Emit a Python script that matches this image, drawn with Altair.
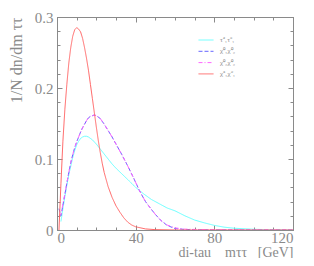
import altair as alt
import pandas as pd

# ---- data ----
labels = ["τ̃⁺₁τ̃⁻₁", "χ̃⁰₁χ̃⁰₂", "χ̃⁰₂χ̃⁰₂", "χ̃⁺₁χ̃⁻₁"]
colors = ["#66ffff", "#6666ff", "#ff66ff", "#ff6666"]
dashes = [[1, 0], [4, 2], [4, 2, 1, 2], [1, 0]]

# stau pair (cyan)
x_stau = [2, 3, 4, 5, 6, 7, 8, 9, 10, 11, 12, 13, 14, 15, 16, 18, 20, 22, 24, 26, 28, 30,
          33, 36, 40, 44, 48, 52, 56, 60, 65, 70, 75, 80, 85, 90, 100, 110, 120]
y_stau = [0.012, 0.03, 0.047, 0.063, 0.078, 0.09, 0.102, 0.112, 0.12, 0.125, 0.129, 0.131,
          0.132, 0.132, 0.131, 0.127, 0.121, 0.114, 0.107, 0.1, 0.093, 0.087, 0.079, 0.071,
          0.06, 0.051, 0.043, 0.037, 0.031, 0.027, 0.02, 0.014, 0.01, 0.0065, 0.004, 0.0025,
          0.001, 0.0003, 0.0]

# neutralino 1-2 (blue dashed)
x_n12 = [1, 2, 3, 4, 5, 6, 7, 8, 9, 10, 11, 12, 13, 14, 15, 16, 17, 18, 19, 20, 22, 24, 26,
         28, 30, 33, 36, 39, 42, 45, 48, 50, 53, 56, 60, 65, 70, 80, 100, 120]
y_n12 = [0.03, 0.02, 0.035, 0.05, 0.066, 0.081, 0.095, 0.106, 0.116, 0.124, 0.131, 0.138,
         0.144, 0.149, 0.154, 0.158, 0.16, 0.161, 0.162, 0.161, 0.157, 0.149, 0.14, 0.131,
         0.121, 0.106, 0.09, 0.073, 0.055, 0.04, 0.029, 0.022, 0.013, 0.0065, 0.002, 0.0008,
         0.0004, 0.0002, 0.0, 0.0]

# neutralino 2-2 (magenta dash-dot)
x_n22 = [1, 2, 3, 4, 5, 6, 7, 8, 9, 10, 11, 12, 13, 14, 15, 16, 17, 18, 19, 20, 22, 24, 26,
         28, 30, 33, 36, 39, 42, 45, 48, 50, 53, 56, 60, 65, 70, 80, 90, 100, 120]
y_n22 = [0.02, 0.022, 0.036, 0.051, 0.066, 0.081, 0.095, 0.106, 0.116, 0.124, 0.131, 0.138,
         0.144, 0.149, 0.154, 0.158, 0.16, 0.161, 0.162, 0.161, 0.157, 0.149, 0.14, 0.131,
         0.121, 0.106, 0.09, 0.073, 0.055, 0.04, 0.029, 0.022, 0.013, 0.007, 0.003, 0.0012,
         0.0008, 0.0005, 0.0003, 0.0001, 0.0]

# chargino pair (red)
x_c11 = [1, 2, 3, 4, 5, 6, 7, 8, 9, 10, 11, 12, 13, 14, 15, 16, 17, 18, 19, 20, 21, 22, 23,
         24, 26, 28, 30, 32, 34, 36, 38, 40, 45, 50, 60, 80, 100, 120]
y_c11 = [0.0, 0.065, 0.125, 0.17, 0.205, 0.235, 0.257, 0.273, 0.282, 0.285, 0.283, 0.279,
         0.27, 0.257, 0.242, 0.225, 0.205, 0.185, 0.165, 0.145, 0.126, 0.109, 0.094, 0.081,
         0.061, 0.046, 0.034, 0.025, 0.017, 0.011, 0.007, 0.0045, 0.0015, 0.0005, 0.0, 0.0,
         0.0, 0.0]

major_x = [0, 40, 80, 120]
minor_x = [0, 10, 20, 30, 40, 50, 60, 70, 80, 90, 100, 110, 120]
major_y = [0, 0.1, 0.2, 0.3]
minor_y = [0, 0.02, 0.04, 0.06, 0.08, 0.1, 0.12, 0.14, 0.16, 0.18, 0.2, 0.22, 0.24, 0.26, 0.28, 0.3]

x_title = "di-tau\u00a0\u00a0\u00a0\u00a0mττ\u00a0\u00a0\u00a0[GeV]"
y_title = "1/N\u00a0dn/dm\u00a0ττ"

rows = []
for lab, xs_, ys_ in zip(labels, [x_stau, x_n12, x_n22, x_c11], [y_stau, y_n12, y_n22, y_c11]):
    for a, b in zip(xs_, ys_):
        rows.append({"m": a, "v": b, "proc": lab})
df = pd.DataFrame(rows)

GRAY = "#8a8a8a"
FONT = "Liberation Serif"

xscale = alt.Scale(domain=[0, 120], nice=False)
yscale = alt.Scale(domain=[0, 0.3], nice=False)

leg = alt.Legend(orient="none", legendX=141, legendY=15, title=None, padding=0,
                 symbolType="stroke", symbolSize=225, symbolStrokeWidth=1,
                 labelFont=FONT, labelFontSize=7, labelColor=GRAY,
                 rowPadding=alt.ExprRef(expr="0.3"), labelOffset=6)

base = alt.Chart(df)

lines = base.mark_line(strokeWidth=1, clip=True).encode(
    x=alt.X("m:Q", scale=xscale,
            axis=alt.Axis(orient="bottom", values=major_x, offset=-5, tickSize=5,
                          domain=False, labelPadding=0, title=x_title,
                          titleAnchor="end", titlePadding=0, titleFontSize=14)),
    y=alt.Y("v:Q", scale=yscale,
            axis=alt.Axis(orient="left", values=major_y, offset=-5, tickSize=5,
                          domain=False, labelPadding=4, format="~g",
                          title=y_title, titleAnchor="end", titlePadding=10,
                          titleFontSize=16)),
    color=alt.Color("proc:N", scale=alt.Scale(domain=labels, range=colors), legend=leg),
    strokeDash=alt.StrokeDash("proc:N", scale=alt.Scale(domain=labels, range=dashes), legend=leg),
    order=alt.Order("m:Q"),
)


def helper(xaxis, yaxis):
    return base.mark_line(opacity=0).encode(
        x=alt.X("m:Q", scale=xscale, axis=xaxis),
        y=alt.Y("v:Q", scale=yscale, axis=yaxis),
        detail="proc:N",
    )


h1 = helper(
    alt.Axis(orient="bottom", values=minor_x, offset=-3, tickSize=3, domain=False,
             labels=False, title=None),
    alt.Axis(orient="left", values=minor_y, offset=-3, tickSize=3, domain=False,
             labels=False, title=None),
)
h2 = helper(
    alt.Axis(orient="top", values=major_x, offset=-5, tickSize=5, domain=False,
             labels=False, title=None),
    alt.Axis(orient="right", values=major_y, offset=-5, tickSize=5, domain=False,
             labels=False, title=None),
)
h3 = helper(
    alt.Axis(orient="top", values=minor_x, offset=-3, tickSize=3, domain=False,
             labels=False, title=None),
    alt.Axis(orient="right", values=minor_y, offset=-3, tickSize=3, domain=False,
             labels=False, title=None),
)

chart = alt.layer(lines, h1, h2, h3).resolve_scale(
    x="independent", y="independent"
).properties(
    width=236, height=213,
    autosize=alt.AutoSizeParams(type="none"),
    padding={"left": 49, "top": 9, "right": 13, "bottom": 28},
).configure_view(
    stroke=GRAY, strokeWidth=1
).configure_axis(
    tickColor=GRAY, tickWidth=1, labelColor=GRAY, titleColor=GRAY,
    labelFont=FONT, titleFont=FONT, labelFontSize=15, titleFontSize=15,
    titleFontWeight="normal", grid=False,
)

chart.save("out.html", embed_options={"renderer": "svg", "actions": False})
